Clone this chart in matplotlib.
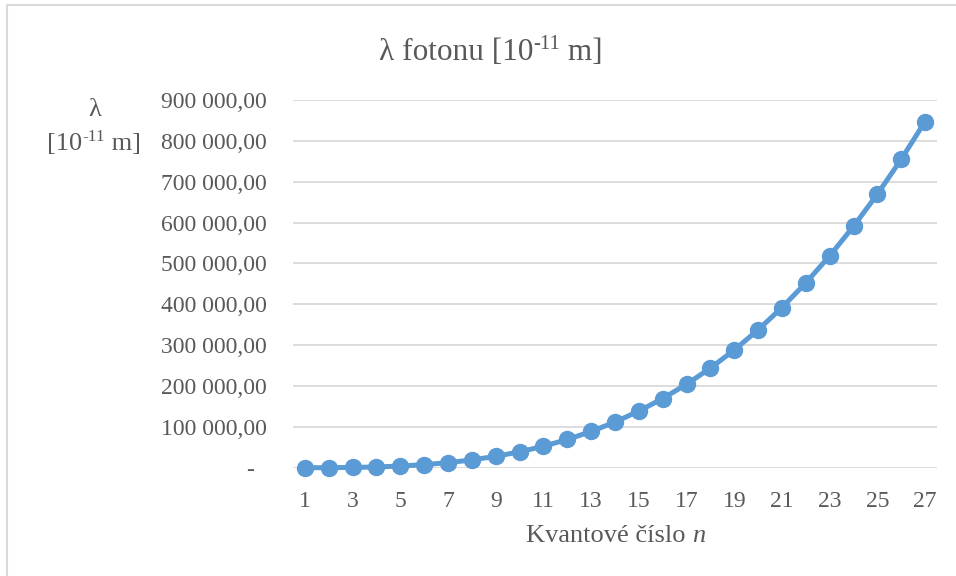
import matplotlib
matplotlib.use("Agg")
import matplotlib.pyplot as plt
from matplotlib.lines import Line2D
from matplotlib.ticker import FuncFormatter, MultipleLocator

# Quantum number n and photon wavelength
n_values = list(range(1, 28))
wavelength = [0, 122, 656, 1875, 4050, 7456, 12365, 19052, 27789, 38850,
              52508, 69038, 88706, 111800, 138580, 169330, 204310, 243800,
              288080, 337420, 392080, 452350, 518500, 590810, 669530,
              754950, 847340]
x_tick_labels = [str(v) for v in range(1, 28, 2)]

TEXT = "#595959"
GRID = "#D9D9D9"
LINE = "#5B9BD5"
FONT = ["Liberation Serif", "DejaVu Serif"]

plt.rcParams["font.family"] = FONT

W, H = 956, 576
fig = plt.figure(figsize=(W / 100, H / 100), dpi=100)
fig.patch.set_facecolor("white")
renderer = fig.canvas.get_renderer()


def px(x, y):
    """Pixel position (from top-left) to figure fraction."""
    return x / W, 1 - y / H


def draw_runs(x, baseline, runs, align="center"):
    """Draw a line of text made of runs (text, size, raise_px, style)."""
    widths = []
    for text, size, _, style in runs:
        t = fig.text(0, 0, text, fontsize=size, style=style)
        widths.append(t.get_window_extent(renderer).width)
        t.remove()
    total = sum(widths)
    start = x - total / 2 if align == "center" else x
    cur = start
    for (text, size, dy, style), w in zip(runs, widths):
        fig.text(*px(cur, baseline - dy), text, fontsize=size, style=style,
                 color=TEXT, ha="left", va="baseline")
        cur += w


# chart frame (left and top edges)
fig.add_artist(Line2D([7 / W, 7 / W], [0, 1 - 5 / H], transform=fig.transFigure,
                      color=GRID, lw=1.5))
fig.add_artist(Line2D([7 / W, 1], [1 - 5 / H, 1 - 5 / H], transform=fig.transFigure,
                      color=GRID, lw=1.5))

ax = fig.add_axes([293 / W, 1 - 467.7 / H, 644 / W, 367.7 / H])
ax.plot(n_values, wavelength, color=LINE, lw=3.6, marker="o", ms=11.5,
        markerfacecolor=LINE, markeredgecolor=LINE, clip_on=False, zorder=3)

ax.set_xlim(0.5, 27.5)
ax.set_ylim(0, 900000)
ax.yaxis.set_major_locator(MultipleLocator(100000))
ax.set_xticks(list(range(1, 28, 2)))
ax.set_xticklabels(x_tick_labels)


def fmt(v, pos):
    if abs(v) < 1e-6:
        return "-  "
    s = f"{v:,.2f}"
    return s.replace(",", " ").replace(".", ",")


ax.yaxis.set_major_formatter(FuncFormatter(fmt))
ax.grid(axis="y", color=GRID, lw=1.3)
ax.set_axisbelow(True)
for s in ax.spines.values():
    s.set_visible(False)
ax.tick_params(axis="both", length=0, labelsize=17, colors=TEXT)
ax.tick_params(axis="y", pad=18.7)
ax.tick_params(axis="x", pad=16.5)

# title
draw_runs(491, 60, [("λ fotonu [10", 22.5, 0, "normal"),
                    ("-11", 15, 11, "normal"),
                    (" m]", 22.5, 0, "normal")])
# x axis title
draw_runs(616, 542, [("Kvantové číslo ", 19, 0, "normal"),
                     ("n", 19, 0, "italic")])
# y axis title
draw_runs(95, 116, [("λ", 19, 0, "normal")])
draw_runs(94, 150, [("[10", 19, 0, "normal"),
                    ("-11", 12.5, 9, "normal"),
                    (" m]", 19, 0, "normal")])

fig.savefig("out.png", dpi=100, facecolor="white")
